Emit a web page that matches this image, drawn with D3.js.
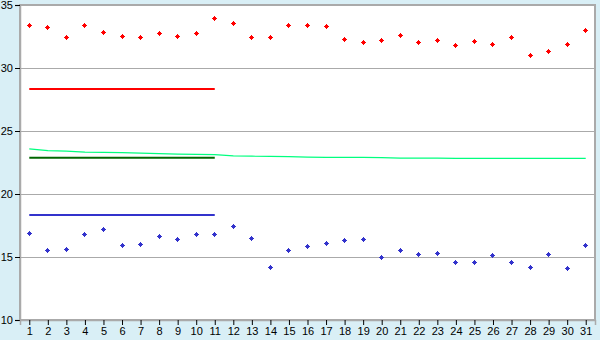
<!DOCTYPE html>
<html>
<head>
<meta charset="utf-8">
<script src="https://cdn.jsdelivr.net/npm/d3@7"></script>
<style>
  html, body { margin: 0; padding: 0; background: #d9eff6; }
  svg { display: block; }
</style>
</head>
<body>
<div id="chart"></div>
<script>
// days of the month
const days = d3.range(1, 32);

// daily maximum (red) and minimum (blue) points
const maxTemps = [33.4, 33.2, 32.4, 33.4, 32.8, 32.5, 32.4, 32.7, 32.5, 32.7,
  33.9, 33.5, 32.4, 32.4, 33.4, 33.4, 33.3, 32.3, 32.0, 32.2,
  32.6, 32.0, 32.2, 31.8, 32.1, 31.9, 32.4, 31.0, 31.3, 31.9, 33.0];
const minTemps = [16.9, 15.5, 15.6, 16.8, 17.2, 15.9, 16.0, 16.6, 16.4, 16.8,
  16.8, 17.4, 16.5, 14.2, 15.5, 15.8, 16.1, 16.3, 16.4, 15.0,
  15.5, 15.2, 15.3, 14.6, 14.6, 15.1, 14.6, 14.2, 15.2, 14.1, 15.9];

// long term mean line (light green)
const normalLine = [23.58, 23.44, 23.40, 23.33, 23.31, 23.29, 23.24, 23.21, 23.16, 23.14,
  23.12, 23.02, 23.00, 22.98, 22.96, 22.92, 22.91, 22.90, 22.90, 22.89,
  22.84, 22.84, 22.84, 22.83, 22.83, 22.83, 22.83, 22.83, 22.83, 22.83, 22.83];

// averages over the first 11 days
const avgDays = [1, 11];
const avgMax = 28.33;
const avgMean = 22.88;
const avgMin = 18.33;

const yTicks = [10, 15, 20, 25, 30, 35];

const width = 600, height = 340;
const margin = { top: 5, right: 5, bottom: 20, left: 20 };

const svg = d3.select("#chart").append("svg")
  .attr("width", width)
  .attr("height", height)
  .style("font-family", "'DejaVu Sans', Verdana, sans-serif");

svg.append("rect")
  .attr("width", width).attr("height", height)
  .attr("fill", "#d9eff6");

const x = d3.scalePoint()
  .domain(days)
  .range([margin.left, width - margin.right])
  .padding(0.5);

const y = d3.scaleLinear()
  .domain([10, 35])
  .range([height - margin.bottom, margin.top]);

// plot area
svg.append("rect")
  .attr("x", margin.left)
  .attr("y", margin.top)
  .attr("width", width - margin.left - margin.right)
  .attr("height", height - margin.top - margin.bottom)
  .attr("fill", "#fff")
  .attr("stroke", "#aaa")
  .attr("stroke-width", 1.5)
  .attr("shape-rendering", "crispEdges");

// gridlines
svg.append("g")
  .selectAll("line")
  .data(yTicks.slice(1, -1))
  .join("line")
  .attr("x1", margin.left)
  .attr("x2", width - margin.right)
  .attr("y1", d => Math.round(y(d)) + 0.5)
  .attr("y2", d => Math.round(y(d)) + 0.5)
  .attr("stroke", "#aaa");

// y axis
const yAxis = svg.append("g")
  .attr("transform", `translate(${margin.left},0)`)
  .call(d3.axisLeft(y).tickValues(yTicks).tickSize(5).tickPadding(2));
yAxis.select(".domain").attr("stroke", "#aaa").attr("stroke-width", 1.5);
yAxis.selectAll(".tick line").attr("stroke", "#000");
yAxis.selectAll("text").attr("font-size", 11).attr("fill", "#000");

// x axis
const xAxis = svg.append("g")
  .attr("transform", `translate(0,${height - margin.bottom})`)
  .call(d3.axisBottom(x).tickSize(5).tickPadding(2));
xAxis.select(".domain").attr("stroke", "#aaa").attr("stroke-width", 1.5);
xAxis.selectAll(".tick line").attr("stroke", "#000");
xAxis.selectAll("text").attr("font-size", 11).attr("fill", "#000");

// light green mean line
const line = d3.line()
  .x((d, i) => x(days[i]))
  .y(d => y(d));

svg.append("path")
  .datum(normalLine)
  .attr("d", line)
  .attr("fill", "none")
  .attr("stroke", "#00ff7f")
  .attr("stroke-width", 1.2);

// average lines over first 11 days
const avgLines = [
  { value: avgMax, color: "#ff0000" },
  { value: avgMean, color: "#006600" },
  { value: avgMin, color: "#3333cc" },
];
svg.append("g")
  .selectAll("line")
  .data(avgLines)
  .join("line")
  .attr("x1", x(avgDays[0]))
  .attr("x2", x(avgDays[1]))
  .attr("y1", d => y(d.value))
  .attr("y2", d => y(d.value))
  .attr("stroke", d => d.color)
  .attr("stroke-width", 2);

// point markers: 5x5 pixel diamond
const marker = "M-0.5,-2.5h1v1h1v1h1v1h-1v1h-1v1h-1v-1h-1v-1h-1v-1h1v-1h1z";

const drawPoints = (values, color) => {
  svg.append("g")
    .selectAll("path")
    .data(values)
    .join("path")
    .attr("d", marker)
    .attr("transform", (d, i) => `translate(${Math.floor(x(days[i])) + 0.5},${Math.floor(y(d)) + 0.5})`)
    .attr("fill", color)
    .attr("shape-rendering", "crispEdges");
};

drawPoints(maxTemps, "#ff0000");
drawPoints(minTemps, "#3333cc");
</script>
</body>
</html>
